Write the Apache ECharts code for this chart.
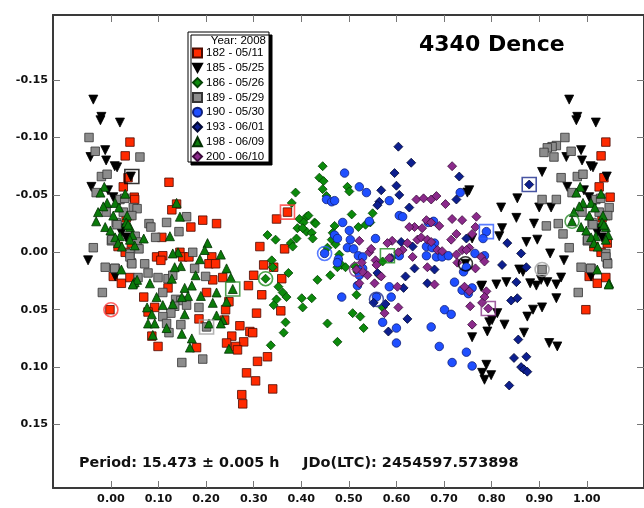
<!DOCTYPE html>
<html><head><meta charset="utf-8">
<script src="https://cdn.jsdelivr.net/npm/echarts@6/dist/echarts.min.js"></script>
<style>html,body{margin:0;padding:0;background:#fff}#c{width:644px;height:508px}</style>
</head><body><div id="c"></div>
<script>
// ---- data: [phase, delta-mag] ----
const seriesNames = ['182 - 05/11','185 - 05/25','186 - 05/26','189 - 05/29','190 - 05/30','193 - 06/01','198 - 06/09','200 - 06/10'];
const xTicks = [0,0.1,0.2,0.3,0.4,0.5,0.6,0.7,0.8,0.9,1.0];
const yTicks = [-0.15,-0.10,-0.05,0,0.05,0.10,0.15];

const s182 = [[0.040,-0.096],[0.030,-0.084],[0.036,-0.065],[0.026,-0.057],[0.049,-0.048],[0.040,-0.032],[0.032,-0.030],[0.043,-0.008],[0.015,-0.005],[0.030,0.000],[0.005,0.021],[0.022,0.027],[0.040,0.022],[0.998,0.050],
[0.122,-0.061],[0.050,-0.046],[0.138,-0.042],[0.128,-0.037],[0.193,-0.028],[0.222,-0.025],[0.168,-0.022],[0.107,-0.013],[0.096,0.004],[0.109,0.003],[0.145,0.000],[0.151,0.004],[0.164,0.004],[0.105,0.007],[0.212,0.004],[0.206,0.010],[0.220,0.010],[0.235,0.022],[0.214,0.024],[0.201,0.035],[0.120,0.031],[0.069,0.039],[0.092,0.048],[0.078,0.052],[0.241,0.050],[0.248,0.043],[0.185,0.058],[0.239,0.059],[0.086,0.073],[0.099,0.082],[0.180,0.083],[0.254,0.073],[0.279,0.078],[0.243,0.079],[0.262,0.082],[0.266,0.085],[0.292,0.069],[0.298,0.070],[0.271,0.064],
[0.313,-0.005],[0.348,-0.029],[0.371,-0.035],[0.365,-0.003],[0.321,0.011],[0.300,0.020],[0.289,0.029],[0.342,0.013],[0.359,0.023],[0.357,0.051],[0.317,0.037],[0.306,0.053],[0.329,0.091],[0.308,0.095],[0.285,0.105],[0.304,0.112],[0.340,0.119],[0.275,0.124],[0.277,0.132]];

const s185 = [[0.963,-0.133],[0.980,-0.118],[0.978,-0.115],[0.988,-0.089],[0.957,-0.083],[0.990,-0.080],[0.906,-0.070],[0.959,-0.057],[0.994,-0.054],[0.854,-0.047],[0.820,-0.039],[0.900,-0.039],[0.925,-0.039],[0.852,-0.030],[0.889,-0.025],[0.822,-0.021],[0.816,-0.014],[0.873,-0.009],[0.896,-0.011],[0.952,0.007],[0.923,0.001],[0.858,0.015],[0.866,0.017],[0.904,0.024],[0.917,0.026],[0.831,0.026],[0.810,0.028],[0.881,0.027],[0.894,0.029],[0.936,0.028],[0.946,0.022],[0.780,0.029],[0.936,0.040],[0.906,0.048],[0.887,0.050],[0.875,0.056],[0.812,0.053],[0.801,0.059],[0.827,0.063],[0.868,0.070],[0.759,0.074],[0.791,0.069],[0.921,0.079],[0.938,0.082],[0.789,0.098],[0.780,0.105],[0.799,0.107],[0.785,0.111],[0.753,-0.054],[0.749,-0.052],[0.759,-0.012],[0.745,0.010],[0.778,0.030],[0.795,0.061],
[0.019,-0.113],[0.042,-0.066],[0.013,-0.074],[0.008,-0.075],[0.005,-0.048],[0.019,-0.045],[0.026,-0.021],[0.022,-0.017],[0.032,-0.013],[0.009,0.021]];

const s186 = [[0.388,-0.052],[0.380,-0.043],[0.411,-0.031],[0.396,-0.029],[0.405,-0.026],[0.392,-0.021],[0.411,-0.018],[0.390,-0.012],[0.378,-0.008],[0.382,-0.005],[0.329,-0.015],[0.346,-0.011],[0.338,0.007],[0.340,0.013],[0.373,0.018],[0.325,0.023],[0.352,0.030],[0.361,0.035],[0.369,0.039],[0.348,0.041],[0.342,0.046],[0.401,0.040],[0.403,0.048],[0.367,0.061],[0.363,0.070],[0.336,0.081],
[0.445,-0.075],[0.438,-0.065],[0.447,-0.062],[0.445,-0.055],[0.453,-0.049],[0.497,-0.057],[0.501,-0.053],[0.506,-0.033],[0.550,-0.034],[0.545,-0.026],[0.535,-0.024],[0.520,-0.022],[0.470,-0.023],[0.466,-0.017],[0.428,-0.026],[0.415,-0.032],[0.430,-0.025],[0.422,-0.017],[0.403,-0.021],[0.424,-0.012],[0.464,-0.011],[0.472,-0.007],[0.455,-0.004],[0.480,0.002],[0.485,0.011],[0.493,0.013],[0.476,0.013],[0.461,0.020],[0.434,0.024],[0.512,0.012],[0.518,0.017],[0.516,0.037],[0.508,0.053],[0.524,0.056],[0.531,0.066],[0.455,0.062],[0.476,0.078],[0.422,0.040],[0.564,0.020],[0.571,0.048],[0.571,0.008]];

const s189 = [[0.954,-0.100],[0.936,-0.093],[0.927,-0.092],[0.917,-0.091],[0.910,-0.087],[0.931,-0.083],[0.967,-0.088],[0.946,-0.065],[0.969,-0.052],[0.980,-0.066],[0.992,-0.068],[0.906,-0.046],[0.936,-0.046],[0.915,-0.023],[0.940,-0.025],[0.950,-0.016],[0.963,-0.004],[0.906,0.015],[0.988,0.013],[0.982,0.035],[0.990,-0.035],
[0.009,0.014],[0.043,0.009],[0.040,0.001],[0.047,-0.039],[0.051,-0.014],[0.001,-0.010],[0.011,-0.026],[0.026,-0.035],
[0.061,-0.083],[0.019,-0.046],[0.029,-0.047],[0.013,-0.024],[0.002,-0.011],[0.040,0.004],[0.055,-0.009],[0.008,0.014],[0.044,0.010],[0.057,0.022],[0.055,-0.038],[0.044,-0.032],[0.080,-0.025],[0.084,-0.022],[0.117,-0.026],[0.159,-0.031],[0.143,-0.018],[0.094,-0.013],[0.059,-0.003],[0.071,0.010],[0.172,0.000],[0.078,0.018],[0.099,0.022],[0.120,0.023],[0.176,0.014],[0.199,0.021],[0.130,0.020],[0.109,0.035],[0.136,0.041],[0.147,0.042],[0.134,0.047],[0.159,0.046],[0.185,0.048],[0.126,0.053],[0.109,0.056],[0.117,0.062],[0.122,0.070],[0.147,0.063],[0.201,0.065],[0.193,0.093],[0.149,0.096]];

const s190 = [[0.491,-0.069],[0.522,-0.057],[0.537,-0.052],[0.453,-0.046],[0.464,-0.044],[0.470,-0.045],[0.585,-0.045],[0.606,-0.032],[0.613,-0.031],[0.543,-0.027],[0.487,-0.026],[0.501,-0.019],[0.470,-0.015],[0.476,-0.012],[0.503,-0.011],[0.556,-0.012],[0.497,-0.004],[0.510,-0.003],[0.449,0.001],[0.520,0.003],[0.478,0.006],[0.476,0.009],[0.529,0.004],[0.529,0.014],[0.663,-0.005],[0.680,-0.008],[0.675,-0.004],[0.684,0.004],[0.696,0.004],[0.709,0.003],[0.678,-0.027],[0.667,-0.026],[0.734,-0.052],[0.741,0.017],[0.747,0.013],[0.722,0.026],[0.738,0.033],[0.751,0.036],[0.759,0.031],[0.789,-0.018],[0.585,0.030],[0.589,0.039],[0.571,0.061],[0.600,0.066],[0.673,0.065],[0.701,0.050],[0.715,0.054],[0.690,0.082],[0.600,0.079],[0.717,0.096],[0.747,0.087],[0.759,0.099],[0.485,0.039],[0.558,0.039],[0.518,0.029],[0.522,0.020],[0.606,0.003],[0.663,0.003],[0.782,-0.012],[0.765,0.001],[0.785,0.003]];

const s193 = [[0.604,-0.092],[0.631,-0.078],[0.596,-0.069],[0.600,-0.058],[0.568,-0.054],[0.606,-0.050],[0.564,-0.044],[0.560,-0.041],[0.627,-0.039],[0.732,-0.066],[0.726,-0.046],[0.610,-0.009],[0.634,-0.005],[0.589,0.005],[0.638,0.014],[0.619,0.021],[0.680,0.015],[0.665,0.027],[0.615,0.031],[0.577,0.045],[0.623,0.058],[0.583,0.069],[0.560,0.018],[0.552,0.044],[0.747,-0.012],[0.879,-0.059],[0.833,-0.008],[0.862,0.001],[0.822,0.011],[0.873,0.013],[0.852,0.026],[0.841,0.042],[0.854,0.040],[0.856,0.076],[0.847,0.092],[0.873,0.091],[0.862,0.100],[0.868,0.102],[0.875,0.104],[0.837,0.116]];

const s198 = [[0.986,-0.057],[0.978,-0.052],[0.992,-0.043],[0.984,-0.040],[0.973,-0.035],[0.969,-0.027],[0.988,-0.022],[0.999,-0.019],
[0.030,-0.051],[0.009,-0.043],[0.017,-0.039],[0.034,-0.032],[0.005,-0.032],[0.032,-0.026],[0.040,-0.022],[0.019,-0.014],[0.045,-0.015],[0.009,-0.013],[0.015,-0.008],[0.022,0.015],[0.047,0.027],
[0.050,-0.006],[0.040,-0.011],[0.023,-0.005],[0.036,-0.024],[0.050,0.026],[0.138,-0.043],[0.145,-0.031],[0.124,-0.014],[0.069,-0.012],[0.203,-0.008],[0.197,-0.002],[0.231,0.002],[0.141,0.000],[0.130,0.001],[0.187,0.006],[0.243,0.014],[0.147,0.012],[0.134,0.013],[0.128,0.023],[0.178,0.020],[0.055,0.024],[0.046,0.028],[0.082,0.027],[0.252,0.022],[0.170,0.029],[0.155,0.031],[0.189,0.038],[0.162,0.038],[0.222,0.035],[0.214,0.044],[0.243,0.043],[0.096,0.039],[0.076,0.048],[0.109,0.046],[0.149,0.039],[0.130,0.045],[0.222,0.055],[0.235,0.059],[0.231,0.062],[0.086,0.054],[0.155,0.054],[0.078,0.062],[0.092,0.062],[0.117,0.066],[0.206,0.062],[0.149,0.071],[0.088,0.072],[0.170,0.075],[0.166,0.083],[0.248,0.084],[0.256,0.032]];

const s200 = [[0.717,-0.075],[0.642,-0.046],[0.657,-0.047],[0.673,-0.046],[0.684,-0.049],[0.703,-0.042],[0.663,-0.028],[0.673,-0.026],[0.638,-0.022],[0.627,-0.022],[0.717,-0.029],[0.738,-0.028],[0.768,-0.031],[0.766,-0.022],[0.654,-0.021],[0.690,-0.023],[0.726,-0.016],[0.759,-0.016],[0.644,-0.011],[0.652,-0.013],[0.665,-0.011],[0.623,-0.008],[0.613,-0.002],[0.634,0.004],[0.673,-0.009],[0.686,-0.002],[0.696,-0.001],[0.715,-0.011],[0.591,-0.010],[0.581,-0.008],[0.522,-0.010],[0.543,0.000],[0.547,-0.003],[0.585,0.005],[0.604,0.000],[0.556,0.007],[0.568,0.021],[0.527,0.009],[0.539,0.020],[0.529,0.017],[0.522,0.027],[0.554,0.027],[0.558,0.011],[0.602,0.030],[0.680,0.028],[0.665,0.013],[0.726,0.002],[0.728,0.009],[0.738,-0.002],[0.753,-0.004],[0.778,0.004],[0.785,0.008],[0.766,0.014],[0.743,0.030],[0.753,0.034],[0.789,0.034],[0.785,0.039],[0.793,0.049],[0.780,0.044],[0.755,0.047],[0.759,0.063],[0.604,0.048],[0.575,0.053],[0.516,0.015],[0.747,-0.002]];

// session start / end markers: [series index, phase, mag]
const circleRings = [[0,0.000,0.050],[1,0.745,0.010],[2,0.325,0.023],[3,0.906,0.015],[4,0.449,0.001],[5,0.558,0.041],[6,0.969,-0.027],[7,0.516,0.015]];
const squareRings = [[0,0.371,-0.035],[1,0.044,-0.066],[2,0.581,0.003],[3,0.201,0.065],[4,0.789,-0.018],[5,0.879,-0.059],[6,0.256,0.032],[7,0.793,0.049]];

// ---- styles ----
const fills   = ['#ff2a00','#000000','#0b8a0b','#8c8c8c','#1f4fff','#0d1f8f','#0a7a0a','#8b2a8b'];
const borders = ['#4a0a00','#000000','#044004','#333333','#10207a','#000833','#023002','#3a0a3a'];
const ringCol = ['#ff3b3b','#000000','#1e8c1e','#a0a0a0','#2f5bff','#1a2a8c','#2a8a2a','#8a3a8a'];
const symbols = ['rect','path://M0,0L10,0L5,9Z','diamond','rect','circle','diamond','triangle','diamond'];
const sizes   = [8.5,9,9,8.5,8.5,9,9,9];
const allData = [s182,s185,s186,s189,s190,s193,s198,s200];

// phase-fold display range -0.05 .. 1.05 (points near 0/1 shown twice)
function folded(arr){
  const out=[];
  arr.forEach(([p,m])=>{
    out.push([p,m]);
    if(p<0.05) out.push([p+1,m]);
    if(p>0.95) out.push([p-1,m]);
  });
  return out;
}

const series = allData.map((d,i)=>({
  name: seriesNames[i], type:'scatter', data: folded(d),
  symbol: symbols[i], symbolSize: sizes[i],
  itemStyle:{color:fills[i], borderColor:borders[i], borderWidth:0.8, opacity:1},
  emphasis:{disabled:true}, z: 2+i
}));
circleRings.forEach(([si,x,y])=>series.push({type:'scatter',silent:true,data:[[x,y]],symbol:'circle',symbolSize:14,
  itemStyle:{color:'rgba(0,0,0,0)',borderColor:ringCol[si],borderWidth:1.6},z:12}));
squareRings.forEach(([si,x,y])=>series.push({type:'scatter',silent:true,data:[[x,y]],symbol:'rect',symbolSize:14,
  itemStyle:{color:'rgba(0,0,0,0)',borderColor:ringCol[si],borderWidth:1.6},z:12}));

const axisLineStyle = {color:'#3a3a3a', width:2};
const tickStyle = {color:'#777', width:1};
const lblFont = {fontFamily:'DejaVu Sans', fontWeight:'bold', fontSize:11.2, color:'#111'};

const option = {
  animation:false,
  grid:{left:53, right:-1, top:15, bottom:20, containLabel:false},
  xAxis:[
    {type:'value', position:'bottom', min:-0.1217, max:1.1202,
     axisLine:{show:true,onZero:false,lineStyle:axisLineStyle},
     axisTick:{show:true,inside:true,length:7,lineStyle:tickStyle,customValues:xTicks},
     axisLabel:{show:true,margin:6,customValues:xTicks,formatter:v=>v.toFixed(2),...lblFont},
     splitLine:{show:false}},
    {type:'value', position:'top', min:-0.1217, max:1.1202,
     axisLine:{show:true,onZero:false,lineStyle:axisLineStyle},
     axisTick:{show:true,inside:true,length:7,lineStyle:tickStyle,customValues:xTicks},
     axisLabel:{show:false}, splitLine:{show:false}}
  ],
  yAxis:[
    {type:'value', position:'left', inverse:true, min:-0.2067, max:0.2053,
     axisLine:{show:true,onZero:false,lineStyle:axisLineStyle},
     axisTick:{show:true,inside:true,length:7,lineStyle:tickStyle,customValues:yTicks},
     axisLabel:{show:true,margin:5,customValues:yTicks,formatter:v=>v.toFixed(2),...lblFont},
     splitLine:{show:false}},
    {type:'value', position:'right', inverse:true, min:-0.2067, max:0.2053,
     axisLine:{show:true,onZero:false,lineStyle:axisLineStyle},
     axisTick:{show:true,inside:true,length:7,lineStyle:tickStyle,customValues:yTicks},
     axisLabel:{show:false}, splitLine:{show:false}}
  ],
  legend:{
    data: seriesNames, orient:'vertical', left:192, top:47, padding:0,
    itemWidth:9, itemHeight:9, itemGap:2.8, selectedMode:false, z:30,
    textStyle:{fontFamily:'Liberation Sans', fontSize:11.5, color:'#000', lineHeight:12, padding:[0,0,0,-1]}
  },
  graphic:[
    {type:'rect', z:25, shape:{x:188,y:32,width:81,height:130},
     style:{fill:'#fff',stroke:'#000',lineWidth:1,shadowColor:'#000',shadowOffsetX:3,shadowOffsetY:3,shadowBlur:0}},
    {type:'text', z:31, style:{text:'Year: 2008', x:266, y:41, align:'right', verticalAlign:'middle',
      font:'11.5px "Liberation Sans"', fill:'#000'}},
    {type:'text', z:31, style:{text:'4340 Dence', x:419, y:45, align:'left', verticalAlign:'middle',
      font:'bold 22px "DejaVu Sans"', fill:'#000'}},
    {type:'text', z:31, style:{text:'Period: 15.473 ± 0.005 h', x:79, y:463, align:'left', verticalAlign:'middle',
      font:'bold 14.3px "DejaVu Sans"', fill:'#111'}},
    {type:'text', z:31, style:{text:'JDo(LTC): 2454597.573898', x:303, y:463, align:'left', verticalAlign:'middle',
      font:'bold 14.5px "DejaVu Sans"', fill:'#111'}}
  ],
  series: series
};
const chart = echarts.init(document.getElementById('c'), null, {renderer:'canvas'});
chart.setOption(option);
</script></body></html>
